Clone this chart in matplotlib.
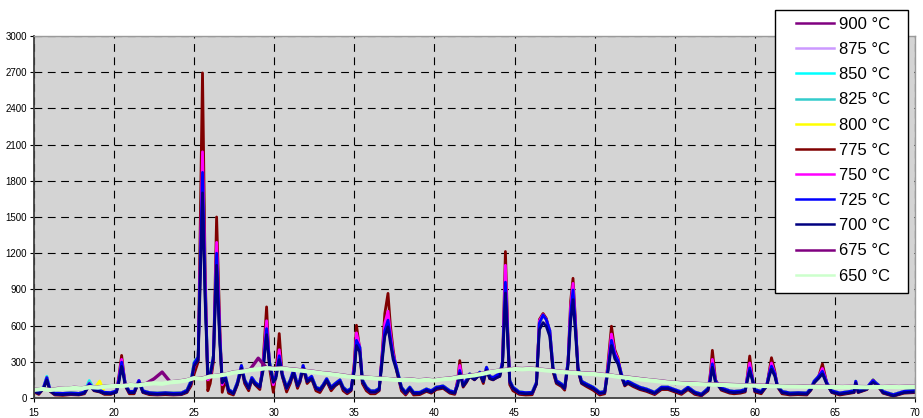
import matplotlib
matplotlib.use("Agg")
import matplotlib.pyplot as plt
from matplotlib.patches import Rectangle

plt.rcParams['font.family'] = ['Liberation Sans', 'DejaVu Sans']

# XRD patterns, 2-theta (deg) vs counts, one trace per calcination temperature
two_theta = [
    15.0, 15.3, 15.6, 15.8, 16.0, 16.3, 16.8, 17.3, 17.8, 18.15,
    18.45, 18.75, 19.1, 19.4, 19.8, 20.15, 20.3, 20.47, 20.7, 20.95,
    21.25, 21.55, 21.8, 22.2, 22.7, 23.2, 23.7, 24.2, 24.55, 24.8,
    25.0, 25.25, 25.52, 25.68, 25.85, 26.0, 26.2, 26.4, 26.6, 26.75,
    26.95, 27.15, 27.45, 27.7, 27.95, 28.15, 28.4, 28.6, 28.8, 29.1,
    29.3, 29.52, 29.7, 29.94, 30.1, 30.31, 30.5, 30.77, 31.0, 31.2,
    31.45, 31.6, 31.8, 32.05, 32.33, 32.6, 32.85, 33.05, 33.27, 33.55,
    33.8, 34.1, 34.3, 34.55, 34.8, 35.0, 35.13, 35.34, 35.5, 35.75,
    36.0, 36.3, 36.55, 36.75, 36.9, 37.1, 37.25, 37.42, 37.63, 37.94,
    38.2, 38.46, 38.7, 39.08, 39.5, 39.8, 40.12, 40.54, 40.96, 41.27,
    41.45, 41.58, 41.79, 42.0, 42.2, 42.5, 42.83, 43.05, 43.25, 43.45,
    43.66, 43.9, 44.08, 44.25, 44.43, 44.58, 44.7, 44.9, 45.3, 45.7,
    46.1, 46.37, 46.55, 46.78, 46.98, 47.2, 47.4, 47.61, 47.93, 48.13,
    48.34, 48.5, 48.65, 48.8, 48.96, 49.18, 49.49, 49.9, 50.32, 50.63,
    50.84, 51.05, 51.26, 51.46, 51.67, 51.88, 52.08, 52.4, 52.82, 53.23,
    53.75, 54.17, 54.58, 54.9, 55.42, 55.83, 56.25, 56.67, 57.08, 57.22,
    57.35, 57.55, 57.9, 58.43, 58.7, 59.1, 59.4, 59.55, 59.68, 59.85,
    60.0, 60.4, 60.75, 60.9, 61.04, 61.25, 61.4, 61.7, 62.2, 62.7,
    63.25, 63.5, 63.7, 63.98, 64.22, 64.5, 64.8, 65.3, 65.95, 66.2,
    66.3, 66.45, 67.0, 67.2, 67.38, 67.7, 68.0, 68.65, 69.3, 70.0,
]

i900 = [
    65, 47, 90, 170, 70, 40, 38, 42, 38, 50,
    120, 75, 65, 47, 45, 60, 150, 297, 117, 55,
    55, 145, 60, 45, 40, 45, 40, 42, 65, 140,
    290, 340, 1950, 950, 180, 200, 350, 1150, 500, 140,
    180, 70, 45, 130, 270, 150, 90, 170, 130, 100,
    250, 575, 300, 145, 180, 350, 200, 90, 150, 230,
    110, 150, 270, 150, 180, 90, 75, 110, 160, 90,
    120, 150, 90, 60, 80, 250, 478, 420, 150, 90,
    60, 60, 80, 350, 560, 645, 500, 353, 255, 90,
    47, 90, 47, 47, 75, 60, 90, 100, 60, 50,
    120, 228, 110, 150, 200, 170, 214, 150, 255, 180,
    170, 190, 200, 300, 1000, 500, 145, 90, 50, 45,
    47, 130, 620, 687, 650, 560, 255, 145, 117, 90,
    300, 700, 880, 600, 255, 140, 117, 90, 47, 55,
    250, 478, 360, 311, 200, 120, 140, 117, 90, 75,
    47, 90, 90, 75, 50, 90, 50, 33, 80, 160,
    283, 140, 85, 60, 55, 60, 70, 170, 250, 160,
    70, 55, 111, 200, 264, 200, 110, 55, 42, 45,
    42, 80, 139, 180, 222, 125, 60, 42, 55, 60,
    139, 60, 85, 120, 145, 110, 55, 28, 55, 61,
]

i875 = [
    65, 47, 90, 170, 70, 40, 38, 42, 38, 50,
    120, 75, 65, 47, 45, 60, 150, 297, 117, 55,
    55, 145, 60, 45, 40, 45, 40, 42, 65, 140,
    280, 330, 1800, 880, 185, 200, 340, 1180, 490, 140,
    180, 70, 45, 130, 270, 150, 90, 170, 130, 100,
    250, 575, 300, 145, 180, 350, 200, 90, 150, 230,
    110, 150, 270, 150, 180, 90, 75, 110, 160, 90,
    120, 150, 90, 60, 80, 250, 478, 420, 150, 90,
    60, 60, 80, 350, 560, 645, 500, 353, 255, 90,
    47, 90, 47, 47, 75, 60, 90, 100, 60, 50,
    120, 228, 110, 150, 200, 170, 214, 150, 255, 180,
    170, 190, 200, 300, 960, 500, 145, 90, 50, 45,
    47, 130, 620, 687, 650, 560, 255, 145, 117, 90,
    300, 700, 895, 600, 255, 140, 117, 90, 47, 55,
    250, 478, 360, 311, 200, 120, 140, 117, 90, 75,
    47, 90, 90, 75, 50, 90, 50, 33, 80, 160,
    283, 140, 85, 60, 55, 60, 70, 170, 250, 160,
    70, 55, 111, 200, 264, 200, 110, 55, 42, 45,
    42, 80, 139, 180, 222, 125, 60, 42, 55, 60,
    139, 60, 85, 120, 145, 110, 55, 28, 55, 61,
]

i850 = [
    65, 47, 90, 180, 70, 40, 38, 42, 38, 50,
    145, 75, 65, 47, 45, 60, 150, 297, 117, 55,
    55, 145, 60, 45, 40, 45, 40, 42, 65, 140,
    300, 340, 2200, 1000, 180, 200, 350, 1250, 520, 140,
    180, 70, 45, 130, 270, 150, 90, 170, 130, 100,
    250, 600, 300, 145, 180, 380, 200, 90, 150, 230,
    110, 150, 270, 150, 180, 90, 75, 110, 160, 90,
    120, 150, 90, 60, 80, 250, 500, 420, 150, 90,
    60, 60, 80, 350, 600, 690, 500, 353, 255, 90,
    47, 90, 47, 47, 75, 60, 90, 100, 60, 50,
    120, 240, 110, 150, 200, 170, 214, 150, 255, 180,
    170, 190, 200, 300, 1050, 500, 145, 90, 50, 45,
    47, 130, 620, 690, 650, 560, 255, 145, 117, 90,
    300, 720, 930, 600, 255, 140, 117, 90, 47, 55,
    250, 490, 360, 311, 200, 120, 140, 117, 90, 75,
    47, 90, 90, 75, 50, 90, 50, 33, 80, 160,
    300, 140, 85, 60, 55, 60, 70, 170, 270, 160,
    70, 55, 111, 200, 280, 200, 110, 55, 42, 45,
    42, 80, 139, 180, 240, 125, 60, 42, 55, 60,
    139, 60, 85, 120, 150, 110, 55, 28, 55, 61,
]

i825 = [
    65, 47, 90, 175, 70, 40, 38, 42, 38, 50,
    135, 75, 65, 47, 45, 60, 150, 297, 117, 55,
    55, 145, 60, 45, 40, 45, 40, 42, 65, 140,
    295, 340, 2100, 980, 180, 200, 350, 1230, 510, 140,
    180, 70, 45, 130, 270, 150, 90, 170, 130, 100,
    250, 590, 300, 145, 180, 370, 200, 90, 150, 230,
    110, 150, 270, 150, 180, 90, 75, 110, 160, 90,
    120, 150, 90, 60, 80, 250, 490, 420, 150, 90,
    60, 60, 80, 350, 590, 670, 500, 353, 255, 90,
    47, 90, 47, 47, 75, 60, 90, 100, 60, 50,
    120, 235, 110, 150, 200, 170, 214, 150, 255, 180,
    170, 190, 200, 300, 1030, 500, 145, 90, 50, 45,
    47, 130, 620, 690, 650, 560, 255, 145, 117, 90,
    300, 710, 915, 600, 255, 140, 117, 90, 47, 55,
    250, 485, 360, 311, 200, 120, 140, 117, 90, 75,
    47, 90, 90, 75, 50, 90, 50, 33, 80, 160,
    290, 140, 85, 60, 55, 60, 70, 170, 260, 160,
    70, 55, 111, 200, 270, 200, 110, 55, 42, 45,
    42, 80, 139, 180, 230, 125, 60, 42, 55, 60,
    139, 60, 85, 120, 148, 110, 55, 28, 55, 61,
]

i800 = [
    65, 47, 90, 170, 70, 40, 38, 42, 38, 50,
    120, 75, 140, 47, 45, 60, 150, 297, 117, 55,
    55, 145, 60, 45, 40, 45, 40, 42, 65, 140,
    290, 340, 1750, 900, 180, 200, 350, 1200, 500, 140,
    180, 70, 45, 130, 270, 150, 90, 170, 130, 100,
    250, 575, 300, 145, 180, 350, 200, 90, 150, 230,
    110, 150, 270, 150, 180, 90, 75, 110, 160, 90,
    120, 150, 90, 60, 80, 250, 478, 420, 150, 90,
    60, 60, 80, 350, 560, 645, 500, 353, 255, 90,
    47, 90, 47, 47, 75, 60, 90, 100, 60, 50,
    120, 228, 110, 150, 200, 170, 214, 150, 255, 180,
    170, 190, 200, 300, 960, 500, 145, 90, 50, 45,
    47, 130, 620, 687, 650, 560, 255, 145, 117, 90,
    300, 700, 895, 600, 255, 140, 117, 90, 47, 55,
    250, 478, 360, 340, 200, 120, 140, 117, 90, 75,
    47, 90, 90, 75, 50, 90, 50, 33, 80, 160,
    283, 140, 85, 60, 55, 60, 70, 170, 250, 160,
    70, 55, 111, 200, 264, 200, 110, 55, 42, 45,
    42, 80, 139, 180, 222, 125, 60, 42, 55, 60,
    139, 60, 85, 120, 145, 110, 55, 28, 55, 61,
]

i775 = [
    50, 30, 80, 150, 55, 25, 22, 28, 25, 35,
    110, 60, 50, 30, 30, 50, 180, 353, 100, 35,
    35, 140, 45, 28, 25, 28, 25, 28, 45, 100,
    200, 300, 2694, 1100, 60, 120, 300, 1500, 600, 47,
    150, 40, 25, 110, 250, 120, 60, 150, 110, 70,
    300, 755, 250, 47, 200, 534, 180, 50, 120, 210,
    80, 130, 250, 120, 160, 60, 45, 90, 140, 60,
    100, 130, 60, 35, 60, 300, 603, 400, 120, 60,
    35, 35, 60, 400, 700, 867, 600, 400, 230, 60,
    25, 70, 25, 28, 55, 40, 70, 80, 40, 30,
    150, 310, 90, 130, 180, 150, 200, 120, 240, 160,
    150, 170, 180, 300, 1214, 550, 110, 60, 30, 25,
    27, 120, 650, 700, 660, 540, 220, 120, 95, 65,
    300, 800, 992, 650, 230, 120, 95, 65, 25, 35,
    300, 595, 400, 330, 180, 100, 120, 95, 70, 55,
    28, 70, 70, 55, 30, 70, 30, 18, 60, 200,
    395, 150, 65, 40, 35, 40, 50, 200, 348, 170,
    50, 35, 100, 220, 334, 220, 95, 35, 25, 28,
    25, 65, 125, 175, 283, 120, 45, 25, 40, 45,
    120, 45, 70, 110, 150, 95, 40, 15, 40, 45,
]

i750 = [
    58, 40, 88, 165, 62, 33, 31, 35, 31, 43,
    118, 68, 58, 40, 38, 55, 160, 320, 110, 47,
    47, 145, 52, 37, 33, 37, 33, 35, 57, 125,
    260, 330, 2040, 1000, 150, 170, 330, 1290, 540, 110,
    170, 60, 37, 125, 265, 140, 80, 165, 125, 90,
    270, 640, 290, 110, 185, 400, 190, 78, 140, 225,
    100, 145, 265, 140, 175, 80, 65, 105, 155, 80,
    115, 145, 80, 50, 72, 270, 540, 420, 140, 80,
    50, 50, 72, 370, 620, 720, 540, 370, 245, 80,
    38, 82, 38, 40, 68, 52, 82, 92, 52, 42,
    130, 270, 105, 145, 195, 165, 210, 140, 250, 175,
    165, 185, 195, 300, 1100, 520, 135, 82, 42, 38,
    38, 125, 640, 690, 650, 555, 245, 135, 108, 80,
    300, 750, 950, 620, 245, 132, 108, 82, 38, 47,
    270, 530, 380, 320, 195, 112, 132, 108, 82, 67,
    38, 82, 82, 67, 42, 82, 42, 25, 72, 175,
    320, 140, 77, 52, 47, 52, 62, 185, 290, 160,
    62, 47, 105, 205, 290, 205, 102, 47, 35, 38,
    35, 72, 135, 178, 245, 122, 52, 35, 47, 52,
    135, 52, 77, 118, 145, 102, 47, 22, 47, 53,
]

i725 = [
    65, 47, 90, 170, 70, 40, 38, 42, 38, 50,
    120, 75, 65, 47, 45, 60, 150, 297, 117, 55,
    55, 145, 60, 45, 40, 45, 40, 42, 65, 140,
    290, 340, 1870, 900, 180, 200, 350, 1200, 500, 140,
    180, 70, 45, 130, 270, 150, 90, 170, 130, 100,
    250, 575, 300, 145, 180, 350, 200, 90, 150, 230,
    110, 150, 270, 150, 180, 90, 75, 110, 160, 90,
    120, 150, 90, 60, 80, 250, 478, 420, 150, 90,
    60, 60, 80, 350, 560, 645, 500, 353, 255, 90,
    47, 90, 47, 47, 75, 60, 90, 100, 60, 50,
    120, 228, 110, 150, 200, 170, 214, 150, 255, 180,
    170, 190, 200, 300, 960, 500, 145, 90, 50, 45,
    47, 130, 620, 687, 650, 560, 255, 145, 117, 90,
    300, 700, 895, 600, 255, 140, 117, 90, 47, 55,
    250, 478, 360, 311, 200, 120, 140, 117, 90, 75,
    47, 90, 90, 75, 50, 90, 50, 33, 80, 160,
    283, 140, 85, 60, 55, 60, 70, 170, 250, 160,
    70, 55, 111, 200, 264, 200, 110, 55, 42, 45,
    42, 80, 139, 180, 222, 125, 60, 42, 55, 60,
    139, 60, 85, 120, 145, 110, 55, 28, 55, 61,
]

i700 = [
    55, 37, 78, 150, 58, 30, 28, 32, 28, 40,
    105, 63, 53, 37, 35, 48, 132, 262, 102, 44,
    44, 128, 48, 35, 30, 35, 30, 32, 52, 122,
    265, 315, 1700, 820, 165, 185, 320, 1100, 455, 125,
    162, 58, 35, 115, 245, 135, 78, 152, 115, 88,
    225, 525, 270, 130, 162, 318, 182, 78, 135, 208,
    98, 135, 245, 135, 162, 78, 63, 98, 145, 78,
    105, 135, 78, 48, 68, 225, 435, 380, 135, 78,
    48, 48, 68, 318, 510, 590, 455, 320, 230, 78,
    37, 78, 37, 37, 63, 48, 78, 88, 48, 40,
    105, 205, 98, 135, 180, 152, 192, 135, 230, 162,
    152, 170, 180, 270, 870, 455, 130, 78, 40, 35,
    37, 115, 565, 625, 595, 510, 230, 130, 104, 78,
    270, 635, 815, 545, 230, 125, 104, 78, 37, 44,
    225, 435, 325, 282, 180, 107, 125, 104, 78, 63,
    37, 78, 78, 63, 40, 78, 40, 23, 68, 145,
    255, 125, 73, 48, 44, 48, 58, 152, 225, 145,
    58, 44, 98, 180, 238, 180, 98, 44, 32, 35,
    32, 68, 125, 162, 200, 112, 48, 32, 44, 48,
    125, 48, 73, 107, 130, 98, 44, 18, 44, 50,
]

# the two low temperatures are still amorphous: broad hump only
two_theta_am = [
    15.0, 15.5, 16.0, 16.5, 17.0, 17.5, 18.0, 18.5, 19.0, 19.5,
    20.0, 20.5, 21.0, 21.5, 22.0, 22.5, 23.0, 23.5, 24.0, 24.5,
    25.0, 25.5, 26.0, 26.5, 27.0, 27.5, 28.0, 28.5, 29.0, 29.5,
    30.0, 30.5, 31.0, 31.5, 32.0, 32.5, 33.0, 33.5, 34.0, 34.5,
    35.0, 35.5, 36.0, 36.5, 37.0, 37.5, 38.0, 38.5, 39.0, 39.5,
    40.0, 40.5, 41.0, 41.5, 42.0, 42.5, 43.0, 43.5, 44.0, 44.5,
    45.0, 45.5, 46.0, 46.5, 47.0, 47.5, 48.0, 48.5, 49.0, 49.5,
    50.0, 50.5, 51.0, 51.5, 52.0, 52.5, 53.0, 53.5, 54.0, 54.5,
    55.0, 55.5, 56.0, 56.5, 57.0, 57.5, 58.0, 58.5, 59.0, 59.5,
    60.0, 60.5, 61.0, 61.5, 62.0, 62.5, 63.0, 63.5, 64.0, 64.5,
    65.0, 65.5, 66.0, 66.5, 67.0, 67.5, 68.0, 68.5, 69.0, 69.5, 70.0,
]

i675 = [
    72, 78, 70, 80, 80, 88, 84, 95, 90, 100,
    104, 102, 112, 108, 120, 160, 215, 134, 140, 150,
    168, 166, 182, 190, 200, 218, 222, 238, 330, 252,
    248, 250, 242, 236, 228, 220, 210, 204, 195, 186,
    176, 176, 170, 166, 162, 156, 152, 158, 150, 156,
    150, 160, 166, 178, 186, 194, 206, 220, 230, 238,
    246, 244, 248, 240, 234, 228, 220, 216, 210, 206,
    204, 196, 190, 180, 174, 166, 158, 150, 144, 136,
    130, 126, 124, 120, 118, 116, 114, 112, 110, 108,
    108, 106, 104, 102, 102, 100, 100, 98, 98, 97,
    96, 95, 97, 95, 94, 96, 95, 97, 95, 98, 97,
]

i650 = [
    67, 75, 66, 74, 78, 83, 80, 90, 86, 96,
    100, 98, 108, 104, 116, 122, 118, 130, 135, 145,
    165, 160, 178, 185, 196, 212, 218, 232, 238, 248,
    242, 245, 236, 230, 222, 214, 205, 198, 190, 180,
    172, 170, 166, 160, 158, 150, 148, 152, 145, 150,
    145, 155, 160, 172, 180, 188, 200, 215, 225, 232,
    240, 238, 242, 235, 228, 222, 215, 210, 205, 200,
    198, 190, 185, 175, 168, 160, 152, 145, 138, 130,
    125, 120, 118, 115, 112, 110, 108, 106, 104, 103,
    102, 100, 98, 97, 96, 95, 94, 93, 92, 92,
    91, 90, 92, 90, 89, 91, 90, 92, 90, 93, 92,
]

labels = ['900 °C', '875 °C', '850 °C', '825 °C', '800 °C', '775 °C',
          '750 °C', '725 °C', '700 °C', '675 °C', '650 °C']
colors = ['#800080', '#CC99FF', '#00FFFF', '#33CCCC', '#FFFF00', '#800000',
          '#FF00FF', '#0000FF', '#000080', '#800080', '#CCFFCC']

series = [(two_theta, i900), (two_theta, i875), (two_theta, i850), (two_theta, i825),
          (two_theta, i800), (two_theta, i775), (two_theta, i750), (two_theta, i725),
          (two_theta, i700), (two_theta_am, i675), (two_theta_am, i650)]

W, H = 923, 418
fig = plt.figure(figsize=(W / 100, H / 100), dpi=100)
ax = fig.add_axes([34 / W, 1 - 398 / H, (915 - 34) / W, (398 - 36) / H])
ax.set_facecolor('#D4D4D4')

for (x, y), lab, col in zip(series, labels, colors):
    if lab == '650 °C':
        lw = 3.0
    elif lab == '675 °C':
        lw = 2.4
    else:
        lw = 2.0
    ax.plot(x, y, color=col, lw=lw, label=lab)

ax.set_xlim(15, 70)
ax.set_ylim(0, 3000)
ax.set_xticks(range(15, 71, 5))
ax.set_yticks(range(0, 3001, 300))
ax.grid(True, color='black', linestyle=(0, (7, 5)), linewidth=0.8)
ax.set_axisbelow(True)
ax.tick_params(labelsize=7, length=3, width=0.8, direction='out', pad=2)
ax.tick_params(axis='x', pad=4)
for s in ('left', 'bottom'):
    ax.spines[s].set_color('#404040')
    ax.spines[s].set_linewidth(1.3)
for s in ('top', 'right'):
    ax.spines[s].set_color('#9A9A9A')
    ax.spines[s].set_linewidth(1.0)

# legend box sticks out above the plot area, like the original sheet
box = Rectangle((775 / W, 1 - 293 / H), (908 - 775) / W, (293 - 10) / H,
                transform=fig.transFigure, facecolor='white', edgecolor='black',
                linewidth=1.0, zorder=4)
fig.patches.append(box)
leg_handles = [plt.Line2D([], [], color=c, lw=1.8) for c in colors]
fig.legend(leg_handles, labels, loc='upper left', bbox_to_anchor=(796 / W, 1 - 17 / H),
           frameon=False, fontsize=12, handlelength=2.3, handletextpad=0.3,
           borderpad=0, borderaxespad=0, labelspacing=0.61)

fig.savefig('out.png', dpi=100)
